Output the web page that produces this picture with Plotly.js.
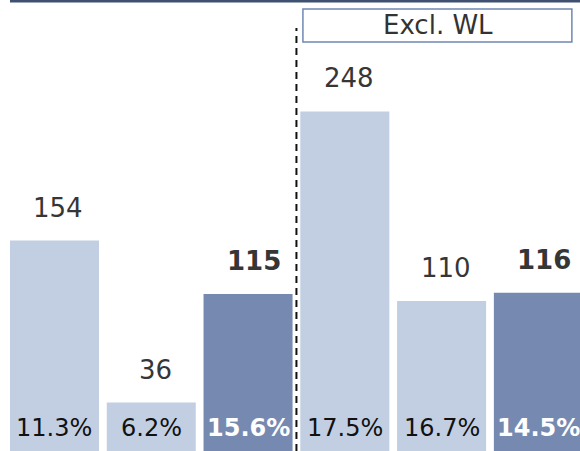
<!DOCTYPE html>
<html>
<head>
<meta charset="utf-8">
<script src="https://cdn.plot.ly/plotly-3.0.1.min.js"></script>
<style>
  html, body { margin: 0; padding: 0; background: #ffffff; }
  #chart { width: 580px; height: 451px; }
</style>
</head>
<body>
<div id="chart"></div>
<script>
// Data
const positions = [0, 1, 2, 3, 4, 5];
const values = [154, 36, 115, 248, 110, 116];
const valueLabels = ["154", "36", "115", "248", "110", "116"];
const pctLabels = ["11.3%", "6.2%", "15.6%", "17.5%", "16.7%", "14.5%"];
const highlighted = [false, false, true, false, false, true];
const groupLabel = "Excl. WL";

const lightColor = "#c2cfe3";
const darkColor = "#768ab1";
const font = "DejaVu Sans, Verdana, sans-serif";

const trace = {
  type: "bar",
  x: positions,
  y: values,
  width: 0.92,
  marker: { color: highlighted.map(h => h ? darkColor : lightColor), line: { width: 0 } },
  hoverinfo: "skip"
};

const annotations = [];
positions.forEach((p, i) => {
  annotations.push({
    x: p, y: values[i], xref: "x", yref: "y",
    text: highlighted[i] ? "<b>" + valueLabels[i] + "</b>" : valueLabels[i],
    showarrow: false, yanchor: "middle", yshift: 33, xshift: highlighted[i] ? 6 : 4,
    font: { family: font, size: 26, color: "#363636" }
  });
  annotations.push({
    x: p, y: 0.051, xref: "x", yref: "paper",
    text: highlighted[i] ? "<b>" + pctLabels[i] + "</b>" : pctLabels[i],
    showarrow: false, yanchor: "middle", xshift: 0,
    font: { family: font, size: 24, color: highlighted[i] ? "#ffffff" : "#111111" }
  });
});
annotations.push({
  x: 3.96, y: 0.944, xref: "x", yref: "paper",
  text: groupLabel, showarrow: false, yanchor: "middle",
  font: { family: font, size: 26, color: "#333333" }
});

const layout = {
  width: 580, height: 451,
  margin: { l: 0, r: 0, t: 0, b: 0, pad: 0 },
  paper_bgcolor: "#ffffff", plot_bgcolor: "#ffffff",
  showlegend: false,
  xaxis: { range: [-0.563, 5.43], visible: false, fixedrange: true },
  yaxis: { range: [0.73, 329.2], visible: false, fixedrange: true },
  annotations: annotations,
  shapes: [
    { type: "line", xref: "paper", yref: "paper", x0: 10/580, x1: 1, y0: 1 - 1/451, y1: 1 - 1/451,
      line: { color: "#3f5070", width: 3 } },
    { type: "line", xref: "x", yref: "paper", x0: 2.5, x1: 2.5, y0: 0, y1: 1 - 28/451,
      line: { color: "#111111", width: 2, dash: "7px,5px" } },
    { type: "rect", xref: "x", yref: "paper", x0: 2.567, x1: 5.346, y0: 1 - 42/451, y1: 1 - 9/451,
      line: { color: "#6f88b3", width: 1.5 }, fillcolor: "rgba(0,0,0,0)" }
  ]
};

Plotly.newPlot("chart", [trace], layout, { staticPlot: true, displayModeBar: false });
</script>
</body>
</html>
